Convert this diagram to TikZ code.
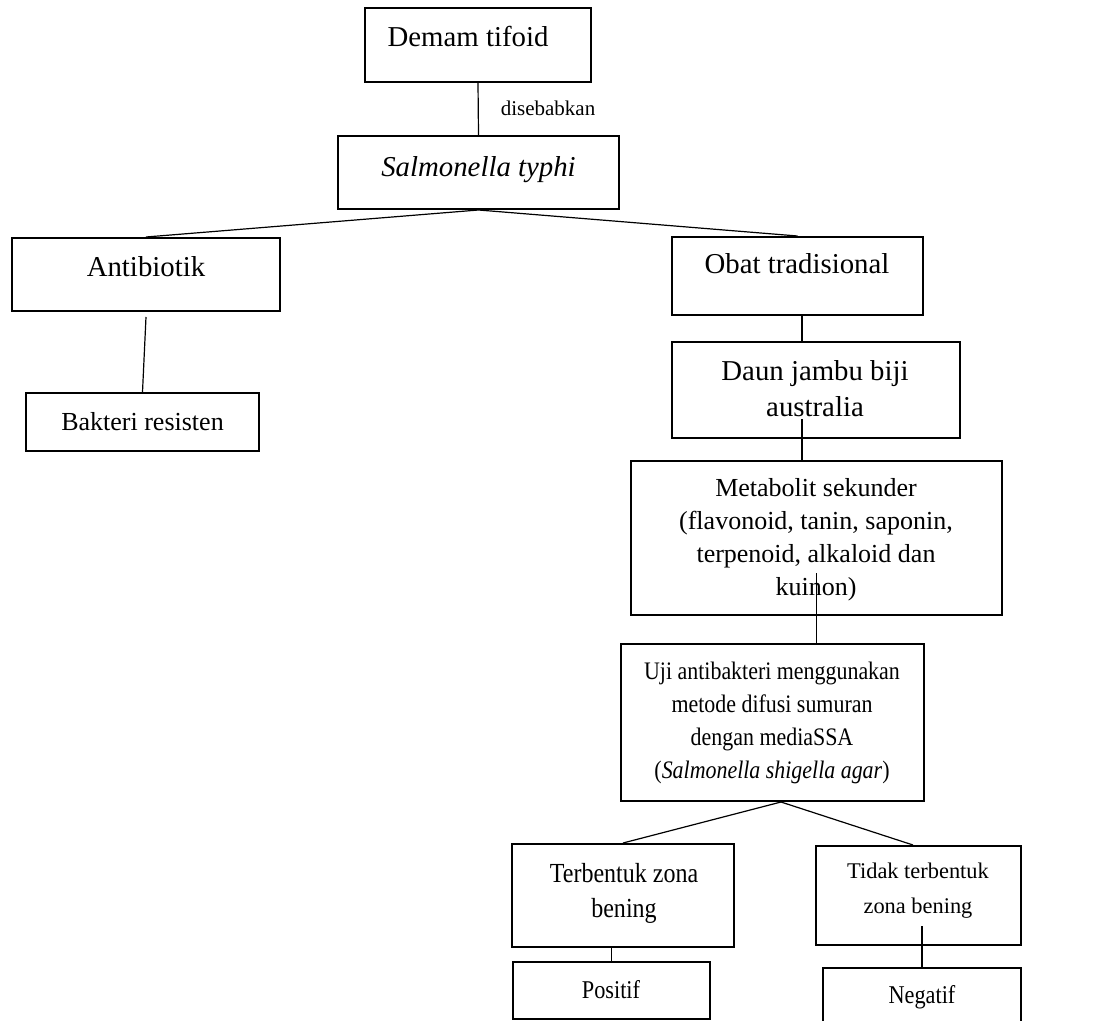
\documentclass[tikz,border=0pt]{standalone}
\usepackage{fontspec}
\setmainfont{Liberation Serif}
\newfontfamily\narrowserif[FakeStretch=0.87]{Liberation Serif}
\usetikzlibrary{positioning,calc}

\begin{document}
\begin{tikzpicture}[x=0.5pt, y=-0.5pt,
    box/.style={rectangle, draw, line width=1pt, inner sep=0pt},
    link/.style={line width=0.6pt},
    lbl/.style={inner sep=0pt, anchor=base, align=center},
    big/.style={font=\fontsize{14.4}{18}\selectfont},
    mid/.style={font=\fontsize{13}{16.5}\selectfont},
    small/.style={font=\fontsize{11.2}{17.5}\selectfont},
    narrow/.style={font=\narrowserif\fontsize{#1}{16.5}\selectfont}
]
\clip (0,0) rectangle (1118,1021);
\fill[white] (0,0) rectangle (1118,1021);

% boxes
\node[box, minimum width=113pt, minimum height=37pt] (demam) at (478,45) {};
\node[box, minimum width=140.5pt, minimum height=36.5pt] (salm) at (478.5,172.5) {};
\node[box, minimum width=134pt, minimum height=36.5pt] (anti) at (146,274.5) {};
\node[box, minimum width=116.5pt, minimum height=29pt] (bakteri) at (142.5,422) {};
\node[box, minimum width=125.5pt, minimum height=39pt] (obat) at (797.5,276) {};
\node[box, minimum width=144pt, minimum height=48pt] (daun) at (816,390) {};
\node[box, minimum width=185.5pt, minimum height=77pt] (meta) at (816.5,538) {};
\node[box, minimum width=151.5pt, minimum height=78.5pt] (uji) at (772.5,722.5) {};
\node[box, minimum width=111pt, minimum height=51.5pt] (terb) at (623,895.5) {};
\node[box, minimum width=102.5pt, minimum height=49.5pt] (tidak) at (918.5,895.5) {};
\node[box, minimum width=98.5pt, minimum height=28.5pt] (pos) at (611.5,990.5) {};
\node[box, minimum width=99pt, minimum height=36pt] (neg) at (922,1004) {};

% texts (base = last line)
\node[lbl, big] (demam-t) at (468,47) {Demam tifoid};
\node[lbl, font=\fontsize{10.5}{12}\selectfont] (sebab-t) at (548,116) {disebabkan};
\node[lbl, big] (salm-t) at (478.5,177) {\textit{Salmonella typhi}};
\node[lbl, big] (anti-t) at (146,277) {Antibiotik};
\node[lbl, mid] (bakteri-t) at (142.5,430) {Bakteri resisten};
\node[lbl, big] (obat-t) at (797,274) {Obat tradisional};
\node[lbl, big] (daun-t) at (815,416) {Daun jambu biji\\australia};
\node[lbl, mid] (meta-t) at (816,595) {Metabolit sekunder\\(flavonoid, tanin, saponin,\\terpenoid, alkaloid dan\\kuinon)};
\node[lbl, narrow=12.6] (uji-t) at (772,778) {Uji antibakteri menggunakan\\metode difusi sumuran\\dengan mediaSSA\\(\textit{Salmonella shigella agar})};
\node[lbl, font=\narrowserif\fontsize{13.8}{17.5}\selectfont] (terb-t) at (624,917) {Terbentuk zona\\bening};
\node[lbl, small] (tidak-t) at (918,913) {Tidak terbentuk\\zona bening};
\node[lbl, narrow=12.8] (pos-t) at (611,998) {Positif};
\node[lbl, narrow=12.8] (neg-t) at (922,1003) {Negatif};

% connectors
\draw[link] (demam.south) -- (salm.north);
\draw[link] (salm.south) -- (anti.north);
\draw[link] (salm.south) -- (obat.north);
\draw[link] ([yshift=-2.5pt]anti.south) -- (bakteri.north);
\draw[link] ([xshift=2.25pt]obat.south) -- ([xshift=2.25pt]obat.south |- daun.north);
\draw[link] ([xshift=-7pt, yshift=10pt]daun.south) -- ([xshift=-7pt]daun.south |- meta.north);
\draw[link] ([yshift=21.5pt]meta.south) -- (meta.south |- uji.north);
\draw[link] ([xshift=4.25pt]uji.south) -- (terb.north);
\draw[link] ([xshift=4.25pt]uji.south) -- ([xshift=-2.75pt]tidak.north);
\draw[link] (pos.north |- terb.south) -- (pos.north);
\draw[link] ([yshift=10pt]tidak.south -| neg.north) -- (neg.north);
\end{tikzpicture}
\end{document}
